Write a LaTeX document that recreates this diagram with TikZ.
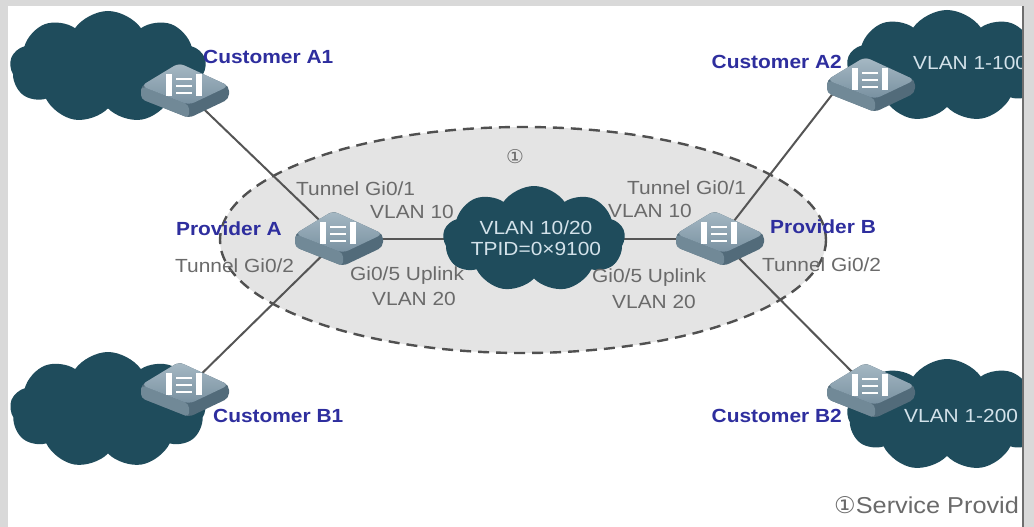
\documentclass[tikz,border=0pt]{standalone}
\usepackage{fontspec}
\setmainfont{Liberation Sans}[FakeStretch=1.1]
\newfontfamily\symfont{DejaVu Sans}[FakeStretch=1.05]
\usetikzlibrary{shapes.symbols}
\pgfdeclarelayer{background}
\pgfsetlayers{background,main}

\definecolor{cloudc}{HTML}{1F4C5C}
\definecolor{ellfill}{HTML}{E4E4E4}
\definecolor{elldraw}{HTML}{505050}
\definecolor{linkc}{HTML}{555555}
\definecolor{lblblue}{HTML}{2E2E9E}
\definecolor{lblgray}{HTML}{6A6A6A}
\definecolor{cloudtxt}{HTML}{D3E2EA}
\definecolor{framegray}{HTML}{D9D9D9}
\definecolor{frameline}{HTML}{6E6E6E}
\definecolor{swtopA}{HTML}{A6B9C4}
\definecolor{swtopB}{HTML}{7890A0}
\definecolor{swsideL}{HTML}{718997}
\definecolor{swsideR}{HTML}{526B7A}

\tikzset{
  swnode/.style={inner sep=0, minimum width=90pt, minimum height=52pt},
  cloudshape/.style={cloud, cloud puffs=9, cloud puff arc=110, cloud ignores aspect,
    fill=cloudc, draw=none, inner sep=0},
  link/.style={draw=linkc, line width=2pt},
  bluelbl/.style={font=\fontsize{19}{21}\selectfont\bfseries, text=lblblue, inner sep=0},
  graylbl/.style={font=\fontsize{19}{21}\selectfont, text=lblgray, inner sep=0},
  cloudlbl/.style={font=\fontsize{19}{21}\selectfont, text=cloudtxt, inner sep=0, align=center},
  switchpic/.pic={
    % body silhouette with the two side faces
    \fill[swsideR, rounded corners=5pt] (-44,-5) -- (-6,-28) -- (44,-5) -- (44,8) -- (4,27) -- (-44,8) -- cycle;
    \fill[swsideL, rounded corners=4pt] (-44,-5) -- (4,14) -- (4,27) -- (-44,8) -- cycle;
    % top face
    \shade[top color=swtopA, bottom color=swtopB, rounded corners=6pt]
      (-44,-5) -- (-6,-28) -- (44,-5) -- (4,14) -- cycle;
    % front symbol
    \fill[white] (-19,-17) rectangle (-13,5);
    \fill[white] (11,-17) rectangle (17,5);
    \foreach \yy in {-12,-5,2} {\fill[white] (-9,\yy-1.4) rectangle (7,\yy+1.4);}
  }
}

\begin{document}
\begin{tikzpicture}[x=1pt,y=-1pt]
\useasboundingbox (0,0) rectangle (1034,527);

% service provider area
\begin{pgfonlayer}{background}
  \fill[white] (0,0) rectangle (1034,527);
  \path[fill=ellfill, draw=elldraw, line width=2.4pt, dash pattern=on 11pt off 7pt]
    (523,240) ellipse [x radius=303, y radius=113];
\end{pgfonlayer}

% clouds
\node[cloudshape, minimum width=196pt, minimum height=112pt] (cA1) at (108,67) {};
\node[cloudshape, minimum width=200pt, minimum height=112pt] (cA2) at (947,66) {};
\node[cloudshape, minimum width=196pt, minimum height=116pt] (cB1) at (108,410) {};
\node[cloudshape, minimum width=200pt, minimum height=112pt] (cB2) at (947,415) {};
\node[cloudshape, minimum width=182pt, minimum height=106pt] (cC) at (534,239) {};

% switches
\node[swnode] (sA1) at (185,91) {};
\node[swnode] (sA2) at (871,85) {};
\node[swnode] (pA) at (339,239) {};
\node[swnode] (pB) at (720,239) {};
\node[swnode] (sB1) at (185,390) {};
\node[swnode] (sB2) at (871,391) {};
\path (sA2) ++(-26,-7) coordinate (a2port);

% links, kept behind the devices
\begin{pgfonlayer}{background}
  \draw[link] (sA1.center) -- (pA.center);
  \draw[link] (pA.center) -- (sB1.center);
  \draw[link] (pA.center) -- (cC.center);
  \draw[link] (cC.center) -- (pB.center);
  \draw[link] (pB.center) -- (a2port);
  \draw[link] (pB.center) -- (sB2.center);
\end{pgfonlayer}

\foreach \s in {sA1,sA2,pA,pB,sB1,sB2} {\pic at (\s) {switchpic};}

% device names
\node[bluelbl, anchor=west] (lA1) at (203,57) {Customer A1};
\node[bluelbl, anchor=east] (lA2) at (842,62) {Customer A2};
\node[bluelbl, anchor=west] (lB1) at (213,416) {Customer B1};
\node[bluelbl, anchor=east] (lB2) at (842,416) {Customer B2};
\node[bluelbl, anchor=east] (lpA) at (282,229) {Provider A};
\node[bluelbl, anchor=west] (lpB) at (770,227) {Provider B};

% port labels
\node[graylbl, anchor=west] (tA2) at (175,266) {Tunnel Gi0/2};
\node[graylbl, anchor=west] (tA1) at (296,189) {Tunnel Gi0/1};
\node[graylbl, anchor=west] (vA10) at (370,212) {VLAN 10};
\node[graylbl, anchor=west] (uA) at (350,276) {Gi0/5 Uplink};
\node[graylbl, anchor=west] (vA20) at (372,299) {VLAN 20};
\node[graylbl, anchor=west] (tB1) at (627,188) {Tunnel Gi0/1};
\node[graylbl, anchor=west] (vB10) at (608,211) {VLAN 10};
\node[graylbl, anchor=west] (uB) at (592,278) {Gi0/5 Uplink};
\node[graylbl, anchor=west] (vB20) at (612,302) {VLAN 20};
\node[graylbl, anchor=west] (tB2) at (762,265) {Tunnel Gi0/2};
\node[graylbl] (mark) at (515,157) {\symfont ①};

% cloud texts
\node[cloudlbl] (tC) at (536,238) {VLAN 10/20\\TPID=0×9100};
\node[cloudlbl, anchor=west] (tVA) at (913,63) {VLAN 1-100};
\node[cloudlbl, anchor=west] (tVB) at (904,416) {VLAN 1-200};

% footnote
\node[graylbl, anchor=west, font=\fontsize{23}{25}\selectfont] (note) at (834,505) {{\symfont ①}Service Provid};

% frame
\fill[framegray] (0,0) rectangle (1034,6);
\fill[framegray] (0,0) rectangle (8,527);
\fill[framegray] (1022,0) rectangle (1034,527);
\draw[frameline, line width=2pt] (1023,6) -- (1023,527);
\end{tikzpicture}
\end{document}
